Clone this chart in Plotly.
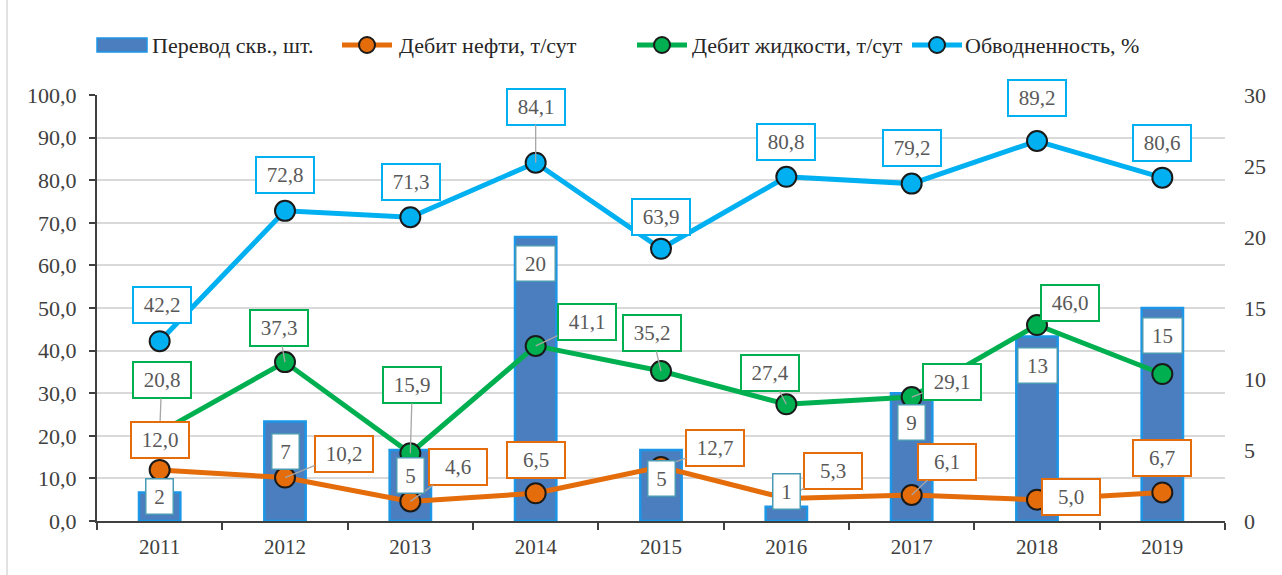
import plotly.graph_objects as go

# ---- data -------------------------------------------------------------
years = ['2011', '2012', '2013', '2014', '2015', '2016', '2017', '2018', '2019']
wells_converted = [2, 7, 5, 20, 5, 1, 9, 13, 15]                          # right axis, pcs
oil_rate = [12.0, 10.2, 4.6, 6.5, 12.7, 5.3, 6.1, 5.0, 6.7]                # t/day
liquid_rate = [20.8, 37.3, 15.9, 41.1, 35.2, 27.4, 29.1, 46.0, 34.5]       # t/day
water_cut = [42.2, 72.8, 71.3, 84.1, 63.9, 80.8, 79.2, 89.2, 80.6]         # %
liquid_label_shown = [True, True, True, True, True, True, True, True, False]

series_names = ['Перевод скв., шт.', 'Дебит нефти, т/сут',
                'Дебит жидкости, т/сут', 'Обводненность, %']

# ---- styling ----------------------------------------------------------
FONT = 'Liberation Serif'
BAR_FILL = '#4A7EBF'
BAR_EDGE = '#1C96E6'
BAR_LABEL_EDGE = '#4A9AB3'
OIL = '#E46C0A'
LIQ = '#00B050'
WATER = '#00B0F0'
LABEL_TXT = '#595959'
AXIS_TXT = '#404040'
LEADER = '#A6A6A6'

W, H = 1282, 575
PLOT_L, PLOT_R, PLOT_T, PLOT_B = 97, 1225, 95, 521

# label placement (pixel offset of the label centre from its point) and leaders
water_off = [(2, -36), (0, -36), (1, -35), (0, -56), (0, -32), (0, -35), (0, -36), (0, -43), (0, -35)]
water_leader = [False, False, False, True, False, False, False, False, False]
liquid_off = [(2, -52), (-6, -34), (2, -68), (51, -24), (-9, -38), (-16, -31), (40, -15), (33, -22), (0, 0)]
liquid_leader = [True, True, True, True, True, True, True, False, False]
oil_off = [(0, -30), (59, -24), (48, -34), (0, -33), (54, -19), (47, -27), (35, -33), (34, -3), (0, -34)]
oil_leader = [False, True, True, False, True, True, True, False, False]
bar_label_drop = [4, 30, 25, 26, 28, -15, 29, 29, 27]   # px below bar top


def fmt(v):
    return f'{v:.1f}'.replace('.', ',')


def px_x(p):
    return (p - PLOT_L) / (PLOT_R - PLOT_L)


def px_y(p):
    return (PLOT_B - p) / (PLOT_B - PLOT_T)


fig = go.Figure()

fig.add_trace(go.Bar(
    x=years, y=wells_converted, name=series_names[0], yaxis='y',
    width=0.33, marker=dict(color=BAR_FILL, line=dict(color=BAR_EDGE, width=2.5)),
    showlegend=False, hoverinfo='x+y'))

for vals, color, name in [(oil_rate, OIL, series_names[1]),
                          (liquid_rate, LIQ, series_names[2]),
                          (water_cut, WATER, series_names[3])]:
    fig.add_trace(go.Scatter(
        x=years, y=vals, name=name, yaxis='y2', mode='lines+markers',
        line=dict(color=color, width=5),
        marker=dict(size=20, color=color, line=dict(color='#1a1a1a', width=2)),
        showlegend=False))

annotations = []


def point_label(i, v, color, off, leader):
    annotations.append(dict(
        x=i, y=v, xref='x', yref='y2', text=fmt(v),
        showarrow=True, ax=off[0], ay=off[1], axref='pixel', ayref='pixel',
        arrowhead=0, arrowwidth=1.3, standoff=0,
        arrowcolor=LEADER if leader else 'rgba(0,0,0,0)',
        font=dict(family=FONT, size=21, color=LABEL_TXT),
        bgcolor='white', bordercolor=color, borderwidth=2, borderpad=1,
        width=54, height=32))


# category index is used as the annotation x position
for i in range(len(years)):
    point_label(i, water_cut[i], WATER, water_off[i], water_leader[i])
for i in range(len(years)):
    if liquid_label_shown[i]:
        point_label(i, liquid_rate[i], LIQ, liquid_off[i], liquid_leader[i])
for i in range(len(years)):
    point_label(i, oil_rate[i], OIL, oil_off[i], oil_leader[i])

for i in range(len(years)):
    txt = str(wells_converted[i])
    annotations.append(dict(
        x=i, y=wells_converted[i], xref='x', yref='y', text=txt,
        showarrow=False, yshift=-bar_label_drop[i], yanchor='middle',
        font=dict(family=FONT, size=21, color=LABEL_TXT),
        bgcolor='white', bordercolor=BAR_LABEL_EDGE, borderwidth=1.5, borderpad=1,
        width=12 * len(txt) + 12, height=32))

# ---- legend drawn along the top --------------------------------------
shapes = []
LEG_Y = 45
legend_items = [(series_names[0], 'bar', BAR_FILL, 97, 150),
                (series_names[1], 'line', OIL, 342, 397),
                (series_names[2], 'line', LIQ, 637, 690),
                (series_names[3], 'line', WATER, 912, 963)]
for name, kind, color, x0, tx in legend_items:
    if kind == 'bar':
        shapes.append(dict(type='rect', xref='paper', yref='paper',
                           x0=px_x(x0), x1=px_x(x0 + 50),
                           y0=px_y(LEG_Y + 7), y1=px_y(LEG_Y - 7),
                           fillcolor=color, line=dict(color=BAR_EDGE, width=1.5)))
    else:
        shapes.append(dict(type='line', xref='paper', yref='paper',
                           x0=px_x(x0), x1=px_x(x0 + 50),
                           y0=px_y(LEG_Y), y1=px_y(LEG_Y),
                           line=dict(color=color, width=5)))
        shapes.append(dict(type='circle', xref='paper', yref='paper',
                           xsizemode='pixel', ysizemode='pixel',
                           xanchor=px_x(x0 + 25), yanchor=px_y(LEG_Y),
                           x0=-8, x1=8, y0=-8, y1=8,
                           fillcolor=color, line=dict(color='#1a1a1a', width=2)))
    annotations.append(dict(
        x=px_x(tx), y=px_y(LEG_Y), xref='paper', yref='paper', text=name,
        showarrow=False, xanchor='left', yanchor='middle',
        font=dict(family=FONT, size=22, color='#262626')))

# thin chart border on the left
shapes.append(dict(type='line', xref='paper', yref='paper',
                   x0=px_x(7), x1=px_x(7), y0=px_y(H), y1=px_y(0),
                   line=dict(color='#D9D9D9', width=1.5)))

fig.update_layout(
    width=W, height=H,
    margin=dict(l=PLOT_L, r=W - PLOT_R, t=PLOT_T, b=H - PLOT_B, autoexpand=False),
    paper_bgcolor='white', plot_bgcolor='white',
    separators=', ',
    showlegend=False,
    xaxis=dict(type='category', range=[-0.5, len(years) - 0.5], autorange=False,
               showline=True, linecolor=AXIS_TXT, linewidth=2,
               ticks='outside', tickson='boundaries', ticklen=7, tickwidth=2,
               tickcolor=AXIS_TXT, showgrid=False,
               tickfont=dict(family=FONT, size=21, color=AXIS_TXT),
               ticklabelstandoff=6, anchor='y'),
    yaxis=dict(side='right', range=[0, 30], autorange=False, dtick=5, showgrid=False,
               showline=False, ticks='', zeroline=False,
               tickfont=dict(family=FONT, size=22, color=AXIS_TXT),
               ticklabelstandoff=18),
    yaxis2=dict(side='left', overlaying='y', range=[0, 100], autorange=False, dtick=10,
                tickformat='.1f', showgrid=True, gridcolor='#D9D9D9', gridwidth=2,
                showline=True, linecolor=AXIS_TXT, linewidth=2, zeroline=False,
                ticks='outside', ticklen=6, tickwidth=2, tickcolor=AXIS_TXT,
                tickfont=dict(family=FONT, size=22, color=AXIS_TXT),
                ticklabelstandoff=8),
    annotations=annotations,
    shapes=shapes,
)

fig.write_html('out.html')
